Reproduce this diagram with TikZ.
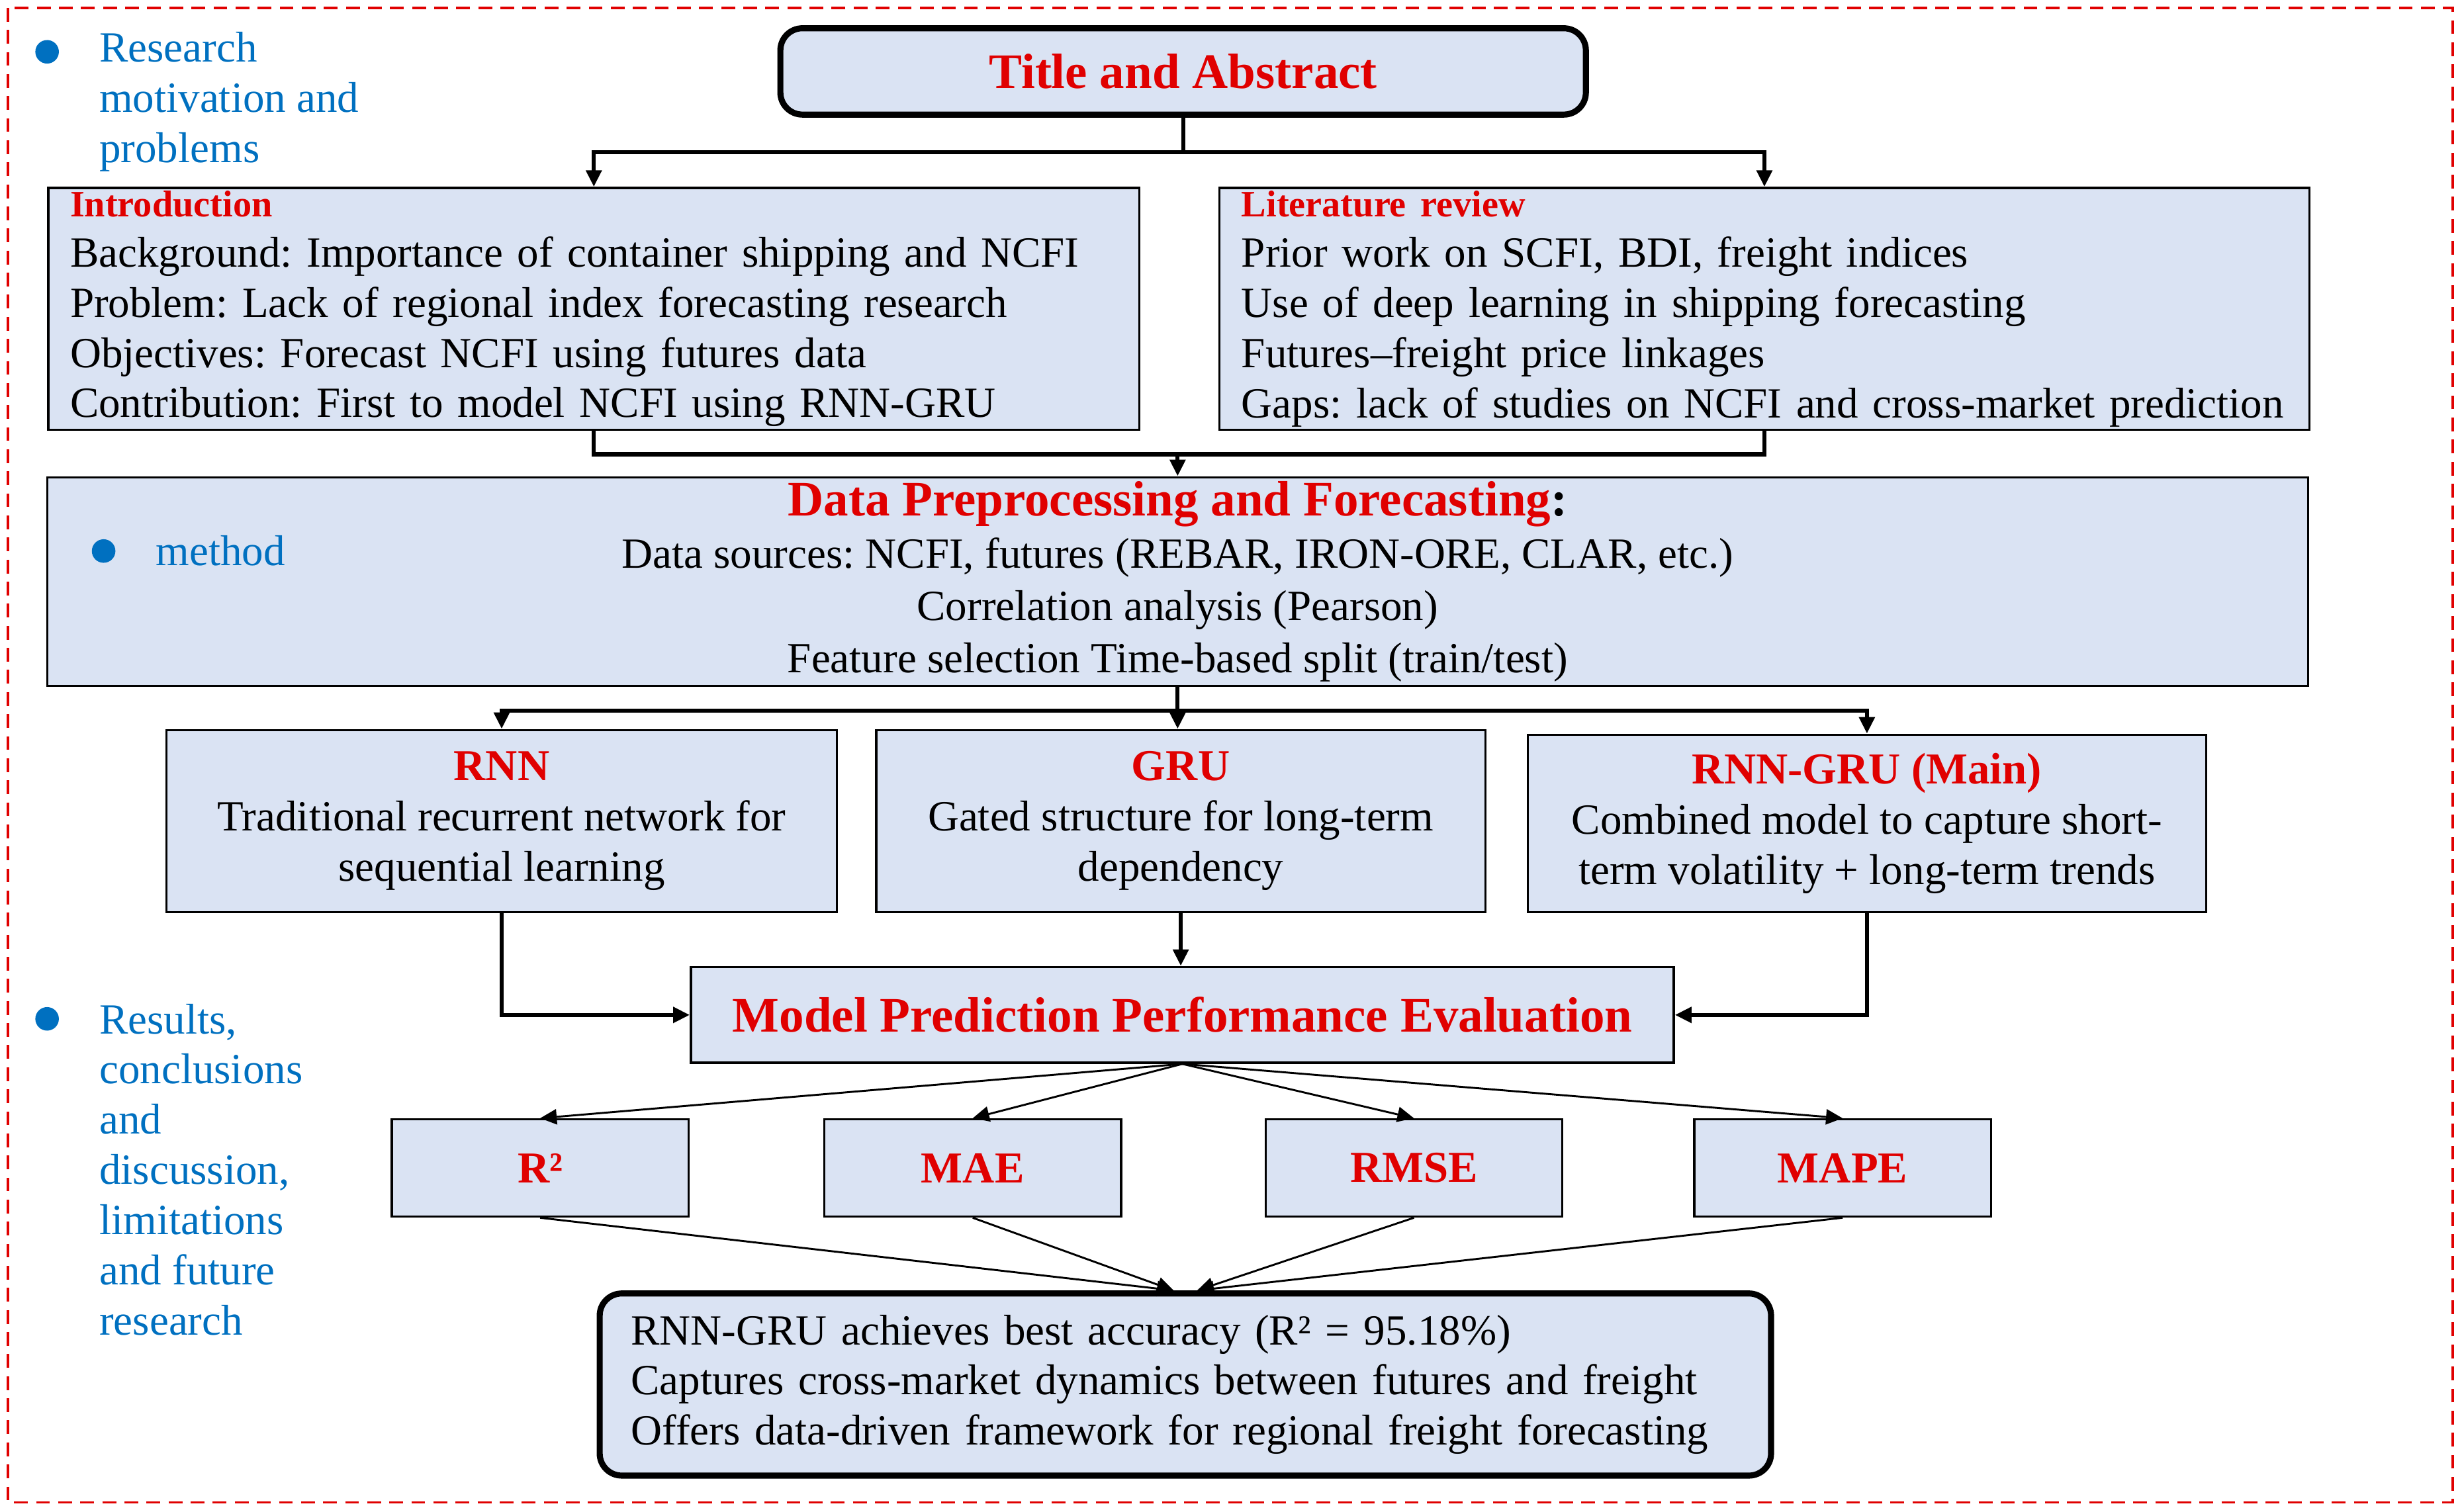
\documentclass[tikz,border=0pt]{standalone}
\usepackage{fontspec}
\setmainfont{Liberation Serif}
\usepackage{xcolor}
\usepackage{tikz}
\usetikzlibrary{positioning,arrows.meta}
\definecolor{BoxBlue}{HTML}{DAE3F3}
\definecolor{HeadRed}{HTML}{E00000}
\definecolor{NoteBlue}{HTML}{0070C0}
\newcommand{\redhead}[1]{\textcolor{HeadRed}{\textbf{#1}}}
\newcommand{\bodysize}{\fontsize{15.6}{18.2}\selectfont}
\newcommand{\midsize}{\fontsize{16}{18}\selectfont}
\newcommand{\bigsize}{\fontsize{18}{20}\selectfont}
\newcommand{\smallsize}{\fontsize{13.5}{15}\selectfont}
\frenchspacing

\begin{document}
\begin{tikzpicture}[x=1cm, y=-1cm, >={Triangle[length=6pt,width=5.5pt]},
    every node/.style={align=center, font=\bodysize},
    box/.style={draw, line width=0.8pt, fill=BoxBlue, inner sep=0pt},
    roundbox/.style={box, line width=2.2pt, rounded corners=8pt},
    link/.style={line width=1.5pt, ->},
    thinlink/.style={line width=0.7pt, ->},
    note/.style={text=NoteBlue, align=left, inner sep=0pt, anchor=west},
    dot/.style={circle, fill=NoteBlue, inner sep=0pt, minimum size=0.3cm}]
      \useasboundingbox (0,0) rectangle (31.36,19.26);
      % Frame
      \draw[HeadRed, line width=0.8pt, dash pattern=on 5pt off 3pt] (0.1,0.1) rectangle (31.24,19.14);
      % Side notes
      \node[dot] (dot1) at (0.6,0.66) {};
      \node[note] (note1) at (1.26,1.3) {Research\\motivation and\\problems};
      \node[dot] (dot3) at (0.6,12.98) {};
      \node[note] (note3) at (1.26,14.9) {Results,\\conclusions\\and\\discussion,\\limitations\\and future\\research};
      % Nodes
      \node[roundbox, minimum width=10.26cm, minimum height=1.1cm] (title) at (15.07,0.91) {\bigsize\redhead{Title and Abstract}};
      \node[box, anchor=north west, text width=13.34cm, inner xsep=0.28cm, minimum height=3.08cm, align=left] (intro) at (0.6,2.38) {{\smallsize\redhead{Introduction}}\\Background: Importance of container shipping and NCFI\\Problem: Lack of regional index forecasting research\\Objectives: Forecast NCFI using futures data\\Contribution: First to model NCFI using RNN-GRU};
      \node[box, anchor=north west, text width=13.32cm, inner xsep=0.28cm, minimum height=3.08cm, align=left] (lit) at (15.52,2.38) {{\smallsize\redhead{Literature review}}\\Prior work on SCFI, BDI, freight indices\\Use of deep learning in shipping forecasting\\Futures--freight price linkages\\Gaps: lack of studies on NCFI and cross-market prediction};
      \node[box, minimum width=28.8cm, minimum height=2.66cm, font=\fontsize{15.6}{19}\selectfont] (data) at (15.0,7.41) {{\bigsize\redhead{Data Preprocessing and Forecasting}\textbf{:}}\\Data sources: NCFI, futures (REBAR, IRON-ORE, CLAR, etc.)\\Correlation analysis (Pearson)\\Feature selection Time-based split (train/test)};
      \node[dot] (dot2) at (1.32,7.02) {};
      \node[note] (note2) at (1.98,7.02) {method};
      \node[box, minimum width=8.54cm, minimum height=2.32cm] (rnn) at (6.39,10.46) {{\midsize\redhead{RNN}}\\Traditional recurrent network for\\sequential learning};
      \node[box, minimum width=7.76cm, minimum height=2.32cm] (gru) at (15.04,10.46) {{\midsize\redhead{GRU}}\\Gated structure for long-term\\dependency};
      \node[box, minimum width=8.64cm, minimum height=2.26cm] (rnngru) at (23.78,10.49) {{\midsize\redhead{RNN-GRU (Main)}}\\Combined model to capture short-\\term volatility + long-term trends};
      \node[box, minimum width=12.52cm, minimum height=1.22cm] (eval) at (15.06,12.93) {\bigsize\redhead{Model Prediction Performance Evaluation}};
      \node[box, minimum width=3.78cm, minimum height=1.24cm] (r2) at (6.88,14.88) {\midsize\redhead{R²}};
      \node[box, minimum width=3.78cm, minimum height=1.24cm] (mae) at (12.39,14.88) {\midsize\redhead{MAE}};
      \node[box, minimum width=3.78cm, minimum height=1.24cm] (rmse) at (18.01,14.88) {\midsize\redhead{RMSE}};
      \node[box, minimum width=3.78cm, minimum height=1.24cm] (mape) at (23.47,14.88) {\midsize\redhead{MAPE}};
      \node[roundbox, anchor=north west, text width=14.12cm, inner xsep=0.4cm, minimum height=2.32cm, align=left] (result) at (7.6,16.44) {RNN-GRU achieves best accuracy (R² = 95.18\%)\\Captures cross-market dynamics between futures and freight\\Offers data-driven framework for regional freight forecasting};
      % Arrows
      \draw[line width=1.5pt] (title.south) -- ++(0,0.44) coordinate (tsplit);
      \draw[link] (tsplit) -| (intro.north);
      \draw[link] (tsplit) -| (lit.north);
      \draw[line width=1.5pt] (intro.south) -- ++(0,0.3) coordinate (imerge) -| (lit.south);
      \draw[link] (imerge -| data.north) -- (data.north);
      \draw[line width=1.5pt] (data.south) -- ++(0,0.3) coordinate (dsplit);
      \draw[link] (dsplit) -| (rnn.north);
      \draw[link] (dsplit) -| (rnngru.north);
      \draw[link] (dsplit) -- (dsplit |- gru.north);
      \draw[link] (rnn.south) |- (eval.west);
      \draw[link] (rnngru.south) |- (eval.east);
      \draw[link] (gru.south) -- (gru.south |- eval.north);
      \draw[thinlink] (eval.south) -- (r2.north);
      \draw[thinlink] (eval.south) -- (mae.north);
      \draw[thinlink] (eval.south) -- (rmse.north);
      \draw[thinlink] (eval.south) -- (mape.north);
      \draw[thinlink] (r2.south) -- ([xshift=-0.15cm]result.north);
      \draw[thinlink] (mae.south) -- ([xshift=-0.15cm]result.north);
      \draw[thinlink] (rmse.south) -- ([xshift=0.15cm]result.north);
      \draw[thinlink] (mape.south) -- ([xshift=0.15cm]result.north);
    \end{tikzpicture}
\end{document}
